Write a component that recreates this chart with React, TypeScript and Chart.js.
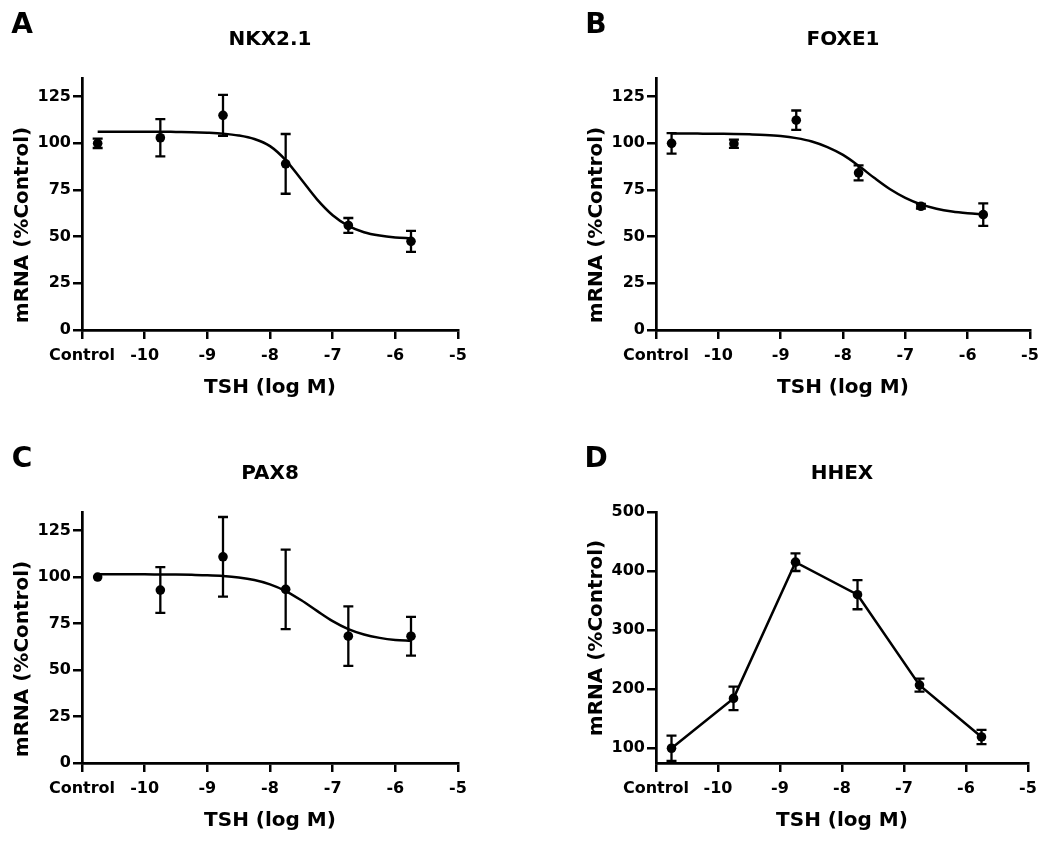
import React, { useEffect, useRef } from "react";
import { Chart, registerables } from "chart.js";

Chart.register(...registerables);

const FONT = "'DejaVu Sans', 'Liberation Sans', Arial, sans-serif";

// Dose positions (log M); the Control group is plotted at -10.75
const DOSE_X = [-10.75, -9.75, -8.75, -7.75, -6.75, -5.75];
const X_TICKS = [-11, -10, -9, -8, -7, -6, -5];
const X_TICK_LABELS = ["Control", "-10", "-9", "-8", "-7", "-6", "-5"];
const Y_TICKS_PCT = [0, 25, 50, 75, 100, 125];
const Y_TICKS_HHEX = [100, 200, 300, 400, 500];

// Means and error (± SEM)
const NKX21_MEAN = [100, 103, 115, 89, 56, 47.5];
const NKX21_ERR = [2.5, 10, 11, 16, 4, 5.6];
const FOXE1_MEAN = [100, 99.8, 112.4, 84.2, 66.3, 61.8];
const FOXE1_ERR = [5.5, 2.2, 5.2, 4, 1.2, 6];
const PAX8_MEAN = [100, 93, 110.9, 93.4, 68.2, 68.2];
const PAX8_ERR = [0, 12.3, 21.4, 21.4, 16, 10.4];
const HHEX_MEAN = [100, 184.4, 415.1, 360, 206.9, 119.1];
const HHEX_ERR = [21.5, 20, 15, 24.7, 11, 12];

// Fitted curves, sampled from the figure
const FIT_X = [
  -10.75, -10.5, -10.25, -10, -9.75, -9.5, -9.25, -9, -8.75, -8.5, -8.25,
  -8, -7.75, -7.5, -7.25, -7, -6.75, -6.5, -6.25, -6, -5.75,
];
const NKX21_FIT = [
  106.2, 106.2, 106.2, 106.2, 106.2, 106.1, 106.0, 105.7, 105.2, 104.2, 102.3,
  98.5, 91.0, 80.6, 70.0, 61.5, 55.8, 52.4, 50.6, 49.6, 49.1,
];
const FOXE1_FIT = [
  105.3, 105.3, 105.2, 105.1, 105.0, 104.8, 104.5, 103.9, 102.8, 101.0, 98.0,
  93.8, 88.0, 81.5, 75.5, 70.8, 67.3, 65.0, 63.5, 62.6, 62.0,
];
const PAX8_FIT = [
  101.5, 101.5, 101.5, 101.5, 101.4, 101.35, 101.2, 101.0, 100.6, 99.8, 98.4,
  96.1, 92.5, 87.5, 81.8, 76.3, 72.0, 69.1, 67.3, 66.2, 65.7,
];

type PanelDef = {
  letter: string;
  title: string;
  mean: number[];
  err: number[];
  fit: number[] | null;
  connect: boolean;
  yMin: number;
  yMax: number;
  yTicks: number[];
  left: number;
  top: number;
  area: { l: number; r: number; t: number; b: number };
  yTitleDy: number;
};

const PANELS: PanelDef[] = [
  {
    letter: "A", title: "NKX2.1", mean: NKX21_MEAN, err: NKX21_ERR, fit: NKX21_FIT,
    connect: false, yMin: 0, yMax: 135, yTicks: Y_TICKS_PCT,
    left: 0, top: 0, area: { l: 82, r: 458, t: 78, b: 330 }, yTitleDy: 21,
  },
  {
    letter: "B", title: "FOXE1", mean: FOXE1_MEAN, err: FOXE1_ERR, fit: FOXE1_FIT,
    connect: false, yMin: 0, yMax: 135, yTicks: Y_TICKS_PCT,
    left: 525, top: 0, area: { l: 656, r: 1030, t: 78, b: 330 }, yTitleDy: 21,
  },
  {
    letter: "C", title: "PAX8", mean: PAX8_MEAN, err: PAX8_ERR, fit: PAX8_FIT,
    connect: false, yMin: 0, yMax: 135, yTicks: Y_TICKS_PCT,
    left: 0, top: 421, area: { l: 82, r: 458, t: 512, b: 763 }, yTitleDy: 21,
  },
  {
    letter: "D", title: "HHEX", mean: HHEX_MEAN, err: HHEX_ERR, fit: null,
    connect: true, yMin: 75, yMax: 500, yTicks: Y_TICKS_HHEX,
    left: 525, top: 421, area: { l: 656, r: 1028, t: 512, b: 763 }, yTitleDy: 0,
  },
];

const errorBarPlugin = {
  id: "errorBars",
  afterDatasetsDraw(chart: any) {
    const ctx = chart.ctx;
    const xs = chart.scales.x;
    const ys = chart.scales.y;
    chart.data.datasets.forEach((ds: any) => {
      if (!ds.errors) return;
      ctx.save();
      ctx.strokeStyle = "#000";
      ctx.lineWidth = 2.3;
      ds.data.forEach((pt: any, i: number) => {
        const e = ds.errors[i];
        if (!e) return;
        const x = xs.getPixelForValue(pt.x);
        const y1 = ys.getPixelForValue(pt.y + e);
        const y2 = ys.getPixelForValue(pt.y - e);
        ctx.beginPath();
        ctx.moveTo(x, y1);
        ctx.lineTo(x, y2);
        ctx.moveTo(x - 5, y1);
        ctx.lineTo(x + 5, y1);
        ctx.moveTo(x - 5, y2);
        ctx.lineTo(x + 5, y2);
        ctx.stroke();
      });
      ctx.restore();
    });
  },
};

const W = 525;
const H = 421;

function PanelChart({ p }: { p: PanelDef }) {
  const ref = useRef<HTMLCanvasElement>(null);
  useEffect(() => {
    if (!ref.current) return;
    const aL = p.area.l - p.left;
    const aR = p.area.r - p.left;
    const aT = p.area.t - p.top;
    const aB = p.area.b - p.top;
    const xTitleY = aB + 57.5;
    const datasets: any[] = [];
    if (p.fit) {
      datasets.push({
        data: FIT_X.map((x, i) => ({ x, y: p.fit![i] })),
        showLine: true,
        pointRadius: 0,
        borderColor: "#000",
        borderWidth: 2.5,
        cubicInterpolationMode: "monotone",
        fill: false,
      });
    }
    datasets.push({
      data: DOSE_X.map((x, i) => ({ x, y: p.mean[i] })),
      showLine: p.connect,
      borderColor: "#000",
      borderWidth: 2.5,
      tension: 0,
      pointRadius: 4.8,
      pointBackgroundColor: "#000",
      pointBorderColor: "#000",
      pointBorderWidth: 0,
      errors: p.err,
    });
    const tickFont = { family: FONT, weight: "bold" as const, size: 16 };
    const chart = new Chart(ref.current, {
      type: "scatter",
      data: { datasets },
      options: {
        responsive: false,
        animation: false,
        devicePixelRatio: 1,
        layout: { padding: { left: aL - 82, right: W - aR, top: aT, bottom: 0 } },
        plugins: { legend: { display: false }, tooltip: { enabled: false } },
        scales: {
          x: {
            type: "linear",
            min: -11,
            max: -5,
            afterBuildTicks: (s: any) => {
              s.ticks = X_TICKS.map((v) => ({ value: v }));
            },
            afterFit: (s: any) => {
              s.height = H - aB;
            },
            ticks: {
              autoSkip: false,
              maxRotation: 0,
              color: "#000",
              font: tickFont,
              padding: 7,
              callback: (_v: any, i: number) => X_TICK_LABELS[i],
            },
            grid: { drawOnChartArea: false, drawTicks: true, tickLength: 9, color: "#000", lineWidth: 2.5 },
            border: { display: true, color: "#000", width: 2.7 },
            title: {
              display: true,
              text: "TSH (log M)",
              color: "#000",
              font: { family: FONT, weight: "bold", size: 20, lineHeight: 1.2 },
              padding: { top: 0, bottom: H - xTitleY - 12 },
            },
          },
          y: {
            type: "linear",
            min: p.yMin,
            max: p.yMax,
            afterBuildTicks: (s: any) => {
              s.ticks = p.yTicks.map((v) => ({ value: v }));
            },
            afterFit: (s: any) => {
              s.width = 82;
            },
            ticks: { color: "#000", font: tickFont, padding: 2 },
            grid: { drawOnChartArea: false, drawTicks: true, tickLength: 9, color: "#000", lineWidth: 2.5 },
            border: { display: true, color: "#000", width: 2.7 },
          },
        },
      } as any,
      plugins: [errorBarPlugin],
    });
    return () => chart.destroy();
  }, [p]);
  return (
    <canvas
      ref={ref}
      width={W}
      height={H}
      style={{ position: "absolute", left: p.left, top: p.top, width: W, height: H, display: "block" }}
    />
  );
}

export default function App() {
  return (
    <div
      style={{
        position: "absolute",
        left: 0,
        top: 0,
        width: 1050,
        height: 842,
        background: "#fff",
        fontFamily: FONT,
        color: "#000",
        overflow: "hidden",
      }}
    >
      {PANELS.map((p) => {
        const cx = (p.area.l + p.area.r) / 2;
        const cy = (p.area.t + p.area.b) / 2;
        return (
          <React.Fragment key={p.letter}>
            <PanelChart p={p} />
            <div
              style={{
                position: "absolute",
                left: p.area.l - 60,
                top: p.area.t - 54,
                transform: "translate(-50%, -50%)",
                fontSize: 28,
                fontWeight: "bold",
                lineHeight: 1,
              }}
            >
              {p.letter}
            </div>
            <div
              style={{
                position: "absolute",
                left: cx,
                top: p.area.t - 40.5,
                transform: "translate(-50%, -50%)",
                fontSize: 20,
                fontWeight: "bold",
                lineHeight: 1,
                whiteSpace: "nowrap",
              }}
            >
              {p.title}
            </div>
            <div
              style={{
                position: "absolute",
                left: p.area.l - 61,
                top: cy + p.yTitleDy,
                transform: "translate(-50%, -50%) rotate(-90deg)",
                fontSize: 20,
                fontWeight: "bold",
                lineHeight: 1,
                whiteSpace: "nowrap",
              }}
            >
              mRNA (%Control)
            </div>
          </React.Fragment>
        );
      })}
    </div>
  );
}
